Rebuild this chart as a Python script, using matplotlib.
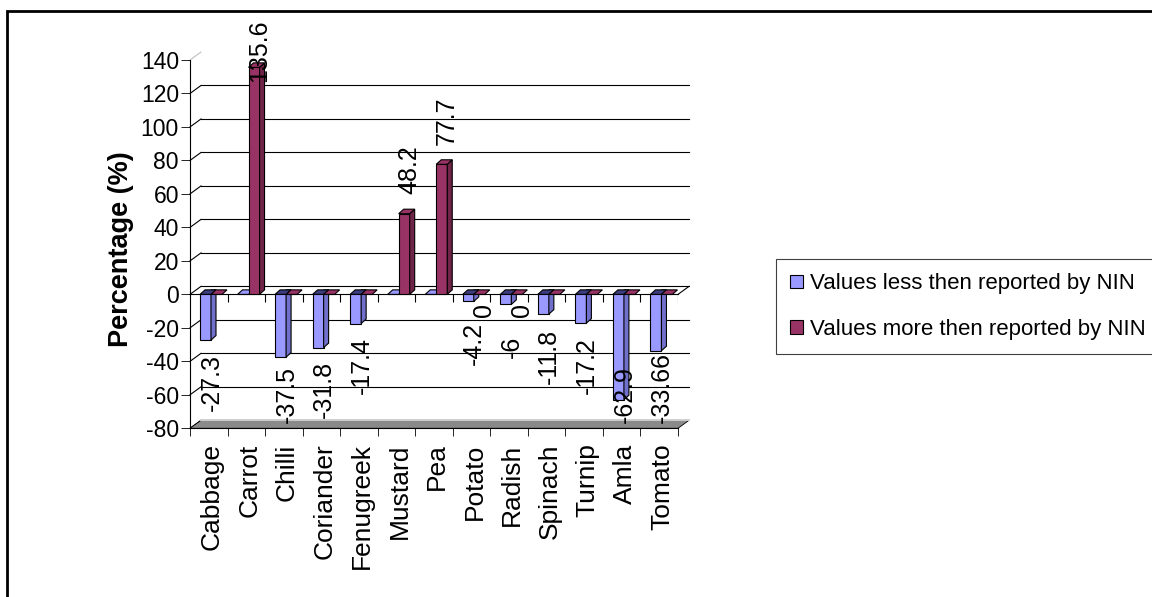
import numpy as np
import matplotlib
matplotlib.use('Agg')
import matplotlib.pyplot as plt
from matplotlib.patches import Patch, Rectangle

# deviation of measured values from the NIN reference values, per vegetable
vegetables = ['Cabbage', 'Carrot', 'Chilli', 'Coriander', 'Fenugreek', 'Mustard', 'Pea',
              'Potato', 'Radish', 'Spinach', 'Turnip', 'Amla', 'Tomato']
less_values = [-27.3, 0, -37.5, -31.8, -17.4, 0, 0, -4.2, -6, -11.8, -17.2, -62.9, -33.66]
more_values = [0, 135.6, 0, 0, 0, 48.2, 77.7, 0, 0, 0, 0, 0, 0]
more_zero_labelled = ['Potato', 'Radish']
series_names = ['Values less then reported by NIN', 'Values more then reported by NIN']
y_ticks = list(range(-80, 141, 20))

W, H = 1152, 597
SANS = ['Liberation Sans', 'DejaVu Sans']

fig = plt.figure(figsize=(W / 100, H / 100), dpi=100)
fig.patch.set_facecolor('white')

# plot area (front plane) in pixels
x_left, x_right, y_top, y_bot = 190, 678, 60, 428.3
ax = fig.add_axes([x_left / W, 1 - y_bot / H, (x_right - x_left) / W, (y_bot - y_top) / H])
n = len(vegetables)
ax.set_xlim(0, n)
ax.set_ylim(-80, 140)
ax.patch.set_alpha(0)

ppx = (x_right - x_left) / n     # pixels per category
ppy = (y_bot - y_top) / 220.0    # pixels per percent


def dx(p):
    return p / ppx


def dy(p):
    return p / ppy


# side wall / back wall depth
wdx, wdy = dx(11), dy(8)
for t in y_ticks:
    col = '#c0c0c0' if t == 140 else 'black'
    ax.plot([0, wdx], [t, t + wdy], color=col, lw=0.8, zorder=1, clip_on=False)
    if -80 < t < 140:
        ax.plot([wdx, n + wdx], [t + wdy, t + wdy], color='black', lw=0.8, zorder=1, clip_on=False)

# floor
ax.fill([0, n, n + wdx, wdx], [-80, -80, -80 + wdy, -80 + wdy],
        facecolor='#8a8a8a', edgecolor='black', lw=0.6, zorder=1.5, clip_on=False)
ax.plot([wdx, n + wdx], [-80 + wdy, -80 + wdy], color='#d0d0d0', lw=1.4, zorder=1.6, clip_on=False)

# zero plane edge
ax.plot([0, n], [0, 0], color='black', lw=0.8, zorder=2, clip_on=False)
ax.plot([n, n + wdx], [0, wdy], color='black', lw=0.8, zorder=2, clip_on=False)
ax.vlines(np.arange(1, n + 1), -dy(8), 0, color='black', lw=0.8, zorder=2)

# 3D columns
bw = dx(11)
bdx, bdy = dx(5), dy(4.5)
series = [
    (less_values, dx(10), '#9999FF', '#7070CC', '#3c3c80'),
    (more_values, dx(21), '#993366', '#702448', '#5a1e3c'),
]
idx = np.arange(n)
for k, (vals, off, c_front, c_side, c_top) in enumerate(series):
    z = 3 + k
    x0 = idx + off
    ax.bar(x0, vals, width=bw, bottom=0, align='edge', color=c_front,
           edgecolor='black', lw=0.8, zorder=z)
    for xi, v in zip(x0, vals):
        if v != 0:
            ax.fill([xi + bw, xi + bw, xi + bw + bdx, xi + bw + bdx],
                    [0, v, v + bdy, bdy] if v > 0 else [bdy, v, v + bdy, bdy],
                    facecolor=c_side, edgecolor='black', lw=0.8, zorder=z + 0.1)
        yt = max(v, 0)
        ax.fill([xi, xi + bw, xi + bw + bdx, xi + bdx], [yt, yt, yt + bdy, yt + bdy],
                facecolor=c_top if v < 0 else c_front, edgecolor='black', lw=0.8,
                zorder=z + 0.2)

# data labels
renderer = fig.canvas.get_renderer()


def put_label(x, v):
    txt = ax.text(x, v, f'{v:g}', rotation=90, ha='center', va='center',
                  family=SANS, fontsize=18, zorder=10, clip_on=False)
    half = dy(txt.get_window_extent(renderer).height) / 2
    if v > 0:
        c = v + dy(44)
        c = min(c, 164 - half)
    elif v < 0:
        c = v - dy(42)
        c = max(c, -77 + half)
    else:
        c = -dy(16)
    txt.set_y(c)


for i, v in enumerate(less_values):
    if v != 0:
        put_label(i + dx(10) + bw / 2 + dx(6), v)
for i, v in enumerate(more_values):
    if v != 0 or vegetables[i] in more_zero_labelled:
        put_label(i + dx(21) + bw / 2 + dx(5), v)

# axes, ticks
for s in ['top', 'right']:
    ax.spines[s].set_visible(False)
ax.spines['left'].set_linewidth(0.8)
ax.spines['bottom'].set_linewidth(0.8)
ax.set_yticks(y_ticks)
ax.set_yticklabels([str(t) for t in y_ticks], family=SANS, fontsize=16.5)
ax.tick_params(axis='y', direction='out', length=6.5, width=0.6, pad=1.5)

ax.set_xticks(idx + 0.58)
ax.set_xticklabels(vegetables, rotation=90, family=SANS, fontsize=19)
ax.set_xticks(np.arange(n + 1), minor=True)
ax.tick_params(axis='x', which='major', length=0, pad=10.8)
ax.tick_params(axis='x', which='minor', direction='out', length=5.8, width=0.6)

fig.text(121 / W, 1 - 249 / H, 'Percentage (%)', rotation=90, ha='center', va='center',
         family=SANS, fontsize=19.5, fontweight='bold')

# legend
handles = [Patch(facecolor=series[0][2], edgecolor='black', lw=0.8),
           Patch(facecolor=series[1][2], edgecolor='black', lw=0.8)]
leg = fig.legend(handles, series_names, loc='upper left',
                 bbox_to_anchor=(776 / W, 1 - 259 / H), prop={'family': SANS, 'size': 16},
                 handlelength=0.55, handleheight=0.55, handletextpad=0.35,
                 labelspacing=1.1, borderpad=0.65, borderaxespad=0, fancybox=False,
                 framealpha=1, edgecolor='#404040')
leg.get_frame().set_linewidth(0.8)

# outer chart border
fig.add_artist(Rectangle((7 / W, -0.2), 1.3, 1.2 - 11 / H, transform=fig.transFigure,
                         fill=False, edgecolor='black', lw=2))

fig.savefig('out.png', dpi=100)
